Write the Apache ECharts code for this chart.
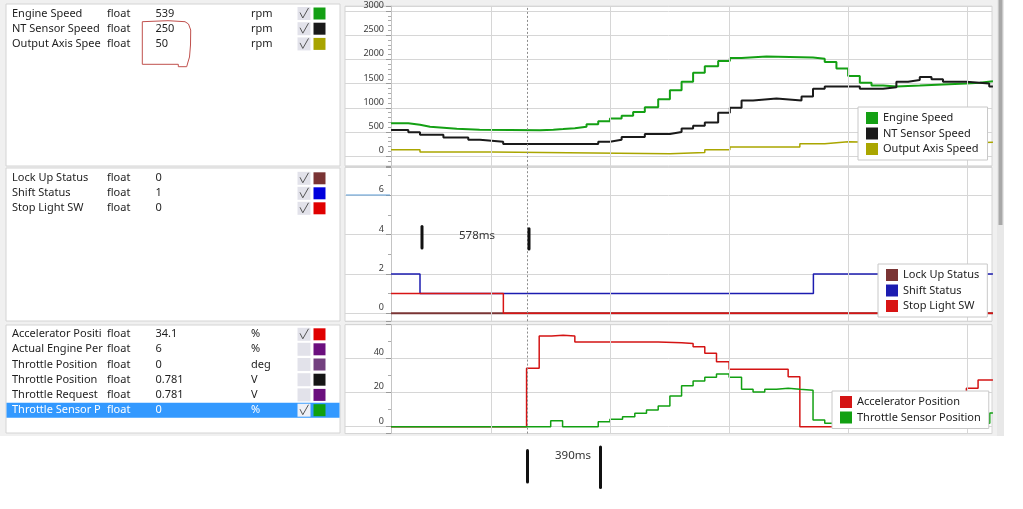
<!DOCTYPE html>
<html><head><meta charset="utf-8">
<script src="https://cdn.jsdelivr.net/npm/echarts/dist/echarts.min.js"></script>
<style>html,body{margin:0;padding:0;background:#fff;}#c{width:1023px;height:509px;}</style>
</head><body><div id="c"></div>
<script>
// ---------------- DATA ----------------
// time axis in ms
const timeGrid = [640, 1280, 1920, 2560, 3200];
const cursorT = 832;

// Panel 1 (rpm)
const engineSpeed = [[98,683],[191,649],[254,608],[308,588],[380,565],[452,549],[575,539],[900,549],[972,560],[1025,578],[1088,608],[1151,662],[1214,723],[1277,777],[1340,838],[1402,912],[1465,1013],[1537,1175],[1600,1364],[1663,1540],[1725,1723],[1788,1858],[1860,1966],[1923,2027],[1986,2061],[2120,2041],[2371,2013],[2434,1946],[2497,1810],[2560,1656],[2623,1520],[2686,1459],[2748,1439],[2820,1459],[2946,1480],[3071,1500],[3197,1520],[3269,1547],[3340,1547]];
const ntSensorSpeed = [[98,541],[191,493],[254,446],[380,385],[514,338],[577,298],[702,250],[1214,298],[1277,338],[1340,399],[1465,460],[1600,500],[1663,574],[1725,628],[1788,695],[1860,898],[1923,999],[1986,1149],[2048,1190],[2174,1149],[2309,1236],[2371,1392],[2434,1439],[2623,1392],[2748,1425],[2820,1540],[2883,1574],[2946,1635],[3009,1588],[3071,1540],[3197,1500],[3320,1439],[3340,1439]];
const outputAxisSpeed = [[98,136],[254,88],[640,50],[1600,75],[1788,136],[1923,189],[2300,257],[2434,298],[2560,257],[3055,290],[3340,290]];

// Panel 2 (status)
const lockUpStatus = [[98,0],[3340,0]];
const shiftStatus = [[98,2],[254,1],[2373,2],[3340,2]];
const stopLightSW = [[98,1],[703,0],[3340,0]];

// Panel 3 (%)
const acceleratorPosition = [[98,0],[828,34.1],[896,52.9],[963,53.3],[1025,52.9],[1088,49.4],[1537,49.0],[1663,48.6],[1725,46.7],[1788,42.8],[1851,37.9],[1919,33.5],[2237,29.2],[2300,0],[3197,22.4],[3260,27.2],[3340,27.2]];
const throttleSensorPosition = [[98,0],[958,3.5],[1022,0],[1214,2.9],[1277,4.3],[1345,5.8],[1411,7.8],[1474,9.7],[1537,12.1],[1600,17.9],[1663,23.9],[1725,26.6],[1788,28.8],[1851,30.7],[1919,28.8],[1986,21.8],[2048,20.2],[2111,21.8],[2174,22.4],[2237,21.8],[2300,21.3],[2371,3.9],[2434,2],[2479,0.3],[3242,2],[3323,8],[3340,8]];

// Tick labels
const yLabels1 = [0,500,1000,1500,2000,2500,3000];
const yLabels2 = [0,2,4,6];
const yLabels3 = [0,20,40];

// Channel list panels
const p1Names = ['Engine Speed','NT Sensor Speed','Output Axis Spee'];
const p1Values = ['539','250','50'];
const p1Units = ['rpm','rpm','rpm'];
const p1Checked = [true,true,true];
const p2Names = ['Lock Up Status','Shift Status','Stop Light SW'];
const p2Values = ['0','1','0'];
const p2Units = ['','',''];
const p2Checked = [true,true,true];
const p3Names = ['Accelerator Positi','Actual Engine Per','Throttle Position','Throttle Position','Throttle Request','Throttle Sensor P'];
const p3Values = ['34.1','6','0','0.781','0.781','0'];
const p3Units = ['%','%','deg','V','V','%'];
const p3Checked = [true,false,false,false,false,true];

// Legend names
const legend1 = ['Engine Speed','NT Sensor Speed','Output Axis Speed'];
const legend2 = ['Lock Up Status','Shift Status','Stop Light SW'];
const legend3 = ['Accelerator Position','Throttle Sensor Position'];

// ---------------- STYLE ----------------
const FONT = 'Noto Sans';
const C = {
  engine:'#14a014', nt:'#1a1a1a', out:'#aaa600',
  lock:'#7a3434', shift:'#1c1cb0', stop:'#d81414',
  accel:'#d41414', thr:'#12a012'
};
const p1Colors = [C.engine, C.nt, '#a8a400'];
const p2Colors = [C.lock, '#0000dd', '#e00000'];
const p3Colors = ['#e00000','#6b0f7e','#73407f','#151515','#6b0f7e','#10a010'];

const chart = echarts.init(document.getElementById('c'), null, {renderer:'canvas'});

function yAxisCfg(idx, min, max, splitNumber, minorSplit, labels) {
  return {
    type:'value', gridIndex: idx, min, max, splitNumber, offset: -46,
    axisLine:{show:true, lineStyle:{color:'#c4c4c4', width:1}},
    axisTick:{show:true, length:5, lineStyle:{color:'#9a9a9a'}},
    minorTick:{show:true, splitNumber:minorSplit, length:3, lineStyle:{color:'#aaaaaa'}},
    splitLine:{show:true, lineStyle:{color:'#d6d6d6', width:1}},
    minorSplitLine:{show:false},
    axisLabel:{
      show:true, margin:7, fontSize:9, fontFamily:FONT, color:'#3a3a3a',
      verticalAlign:'bottom', lineHeight:11,
      showMinLabel:true, showMaxLabel:true,
      formatter: v => labels.indexOf(Math.round(v*1000)/1000) >= 0 ? String(Math.round(v)) : ''
    }
  };
}
function xAxisCfg(idx){ return {type:'value', gridIndex: idx, min:-150, max:3335, show:false}; }

function gridSeries(idx){
  return {
    type:'line', name:'_grid'+idx, xAxisIndex:idx, yAxisIndex:idx, data:[], silent:true, z:1,
    markLine:{
      silent:true, symbol:['none','none'], label:{show:false}, animation:false,
      lineStyle:{color:'#d6d6d6', type:'solid', width:1},
      emphasis:{disabled:true},
      data: timeGrid.map(t => ({xAxis:t})).concat([{xAxis:cursorT, lineStyle:{color:'#8c8c8c', type:[2,2], width:1}}])
    }
  };
}
function lineSeries(name, data, idx, color, width){
  return {
    type:'line', name, data, xAxisIndex:idx, yAxisIndex:idx, step:'end', z:2,
    showSymbol:false, symbol:'none', color, itemStyle:{color},
    lineStyle:{color, width}, emphasis:{disabled:true}, animation:false
  };
}
function legendCfg(names, left, top, padRight){
  return {
    data:names, orient:'vertical', left, top, itemWidth:12, itemHeight:12, itemGap:3.5, z:30,
    padding:[5,padRight,5,8], backgroundColor:'#fff', borderColor:'#c8c8c8', borderWidth:1,
    borderRadius:0, icon:'rect', selectedMode:false,
    itemStyle:{borderWidth:0},
    textStyle:{fontSize:11, fontFamily:FONT, color:'#222'}
  };
}

// ---------- graphic (panel chrome) ----------
const G = [];
// white bottom & right areas
G.push({type:'rect', shape:{x:0,y:436,width:1023,height:73}, style:{fill:'#fff'}, z:1});
G.push({type:'rect', shape:{x:1004,y:0,width:19,height:436}, style:{fill:'#fff'}, z:1});
// scrollbar
G.push({type:'rect', shape:{x:997,y:0,width:7,height:436}, style:{fill:'#e8e8e8'}, z:1});
G.push({type:'rect', shape:{x:998.5,y:0,width:4,height:225}, style:{fill:'#a8a8a8'}, z:2});
// left panels
[[6,4,334,162],[6,168,334,153],[6,325,334,108]].forEach(r=>{
  G.push({type:'rect', shape:{x:r[0],y:r[1],width:r[2],height:r[3]}, style:{fill:'#fff', stroke:'#d4d4d4', lineWidth:1}, z:1});
});
function txt(text, x, y, color, size){
  return {type:'text', x, y, z:5, style:{text, fontSize:size||11, fontFamily:FONT, fill:color||'#1e1e1e', verticalAlign:'middle', align:'left'}};
}
function rows(names, values, units, colors, checked, ys, selected){
  names.forEach((n,i)=>{
    const y = ys[i];
    const sel = (i === selected);
    if (sel) G.push({type:'rect', shape:{x:6.5,y:y-7.5,width:333,height:15}, style:{fill:'#3399ff'}, z:3});
    const col = sel ? '#ffffff' : '#1e1e1e';
    G.push(txt(n, 12, y, col));
    G.push(txt('float', 107, y, col));
    G.push(txt(values[i], 155.5, y, col));
    if (units[i]) G.push(txt(units[i], 251, y, col));
    G.push({type:'rect', shape:{x:297.5,y:y-6.5,width:13,height:13}, style:{fill: sel ? '#eef0f6' : '#e2e2ea'}, z:4});
    if (checked[i]) G.push({type:'polyline', shape:{points:[[300,y-1],[302.8,y+4.5],[308.5,y-5.5]]}, style:{stroke:'#555', lineWidth:1, fill:null}, z:5});
    G.push({type:'rect', shape:{x:313.5,y:y-6,width:12,height:12}, style:{fill:colors[i]}, z:4});
  });
}
rows(p1Names, p1Values, p1Units, p1Colors, p1Checked, [13.5,28.7,43.9], -1);
rows(p2Names, p2Values, p2Units, p2Colors, p2Checked, [178.3,193.3,208.3], -1);
rows(p3Names, p3Values, p3Units, p3Colors, p3Checked, [334.3,349.3,364.5,379.7,394.9,410.2], 5);
// hand drawn red box
G.push({type:'polyline', shape:{points:[[142.3,64.3],[142.3,21.7],[168,20.7],[185,21.7],[188.5,24],[190.7,30],[190.5,45],[189.5,57],[188,62],[186.7,66.7],[178.3,66.7],[178.3,64.3],[142.3,64.3]]}, style:{stroke:'#c0504d', lineWidth:1, fill:null}, z:6});
// highlighted 6 line in axis area
G.push({type:'line', shape:{x1:346,y1:195,x2:390,y2:195}, style:{stroke:'#5b9bd5', lineWidth:1}, z:50});
// annotation bars & texts
[[420.5,225,3,24.5],[527.5,227.3,3,23.2],[526,449,3,34.5],[599,445.5,3,43.5]].forEach(b=>{
  G.push({type:'rect', shape:{x:b[0],y:b[1],width:b[2],height:b[3],r:1.5}, style:{fill:'#111'}, z:100});
});
G.push({type:'text', x:459, y:235.7, z:100, style:{text:'578ms', fontSize:11.5, fontFamily:FONT, fill:'#333', verticalAlign:'middle', align:'left'}});
G.push({type:'text', x:555, y:456, z:100, style:{text:'390ms', fontSize:11.5, fontFamily:FONT, fill:'#333', verticalAlign:'middle', align:'left'}});

const gridCommon = {left:345, right:31, show:true, backgroundColor:'#fff', borderColor:'#d4d4d4', borderWidth:1, containLabel:false};

chart.setOption({
  animation:false,
  backgroundColor:'#f0f0f0',
  grid:[
    Object.assign({top:3, bottom:343.1}, gridCommon),
    Object.assign({top:167.5, bottom:187.8}, gridCommon),
    Object.assign({top:324.7, bottom:75.44}, gridCommon)
  ],
  xAxis:[xAxisCfg(0), xAxisCfg(1), xAxisCfg(2)],
  yAxis:[
    yAxisCfg(0, -200, 3100, 5, 5, yLabels1),
    yAxisCfg(1, -0.4, 7.4, 4, 2, yLabels2),
    yAxisCfg(2, -4, 59.5, 3, 2, yLabels3)
  ],
  legend:[
    legendCfg(legend1, 858, 107, 9),
    legendCfg(legend2, 878, 264, 8),
    legendCfg(legend3, 832, 391, 8)
  ],
  series:[
    gridSeries(0), gridSeries(1), gridSeries(2),
    lineSeries(legend1[0], engineSpeed, 0, C.engine, 2),
    lineSeries(legend1[1], ntSensorSpeed, 0, C.nt, 2),
    lineSeries(legend1[2], outputAxisSpeed, 0, C.out, 1.5),
    lineSeries(legend2[0], lockUpStatus, 1, C.lock, 2),
    lineSeries(legend2[1], shiftStatus, 1, C.shift, 1.5),
    lineSeries(legend2[2], stopLightSW, 1, C.stop, 1.5),
    lineSeries(legend3[0], acceleratorPosition, 2, C.accel, 1.5),
    lineSeries(legend3[1], throttleSensorPosition, 2, C.thr, 1.5)
  ],
  graphic:{elements:G}
});
</script></body></html>
